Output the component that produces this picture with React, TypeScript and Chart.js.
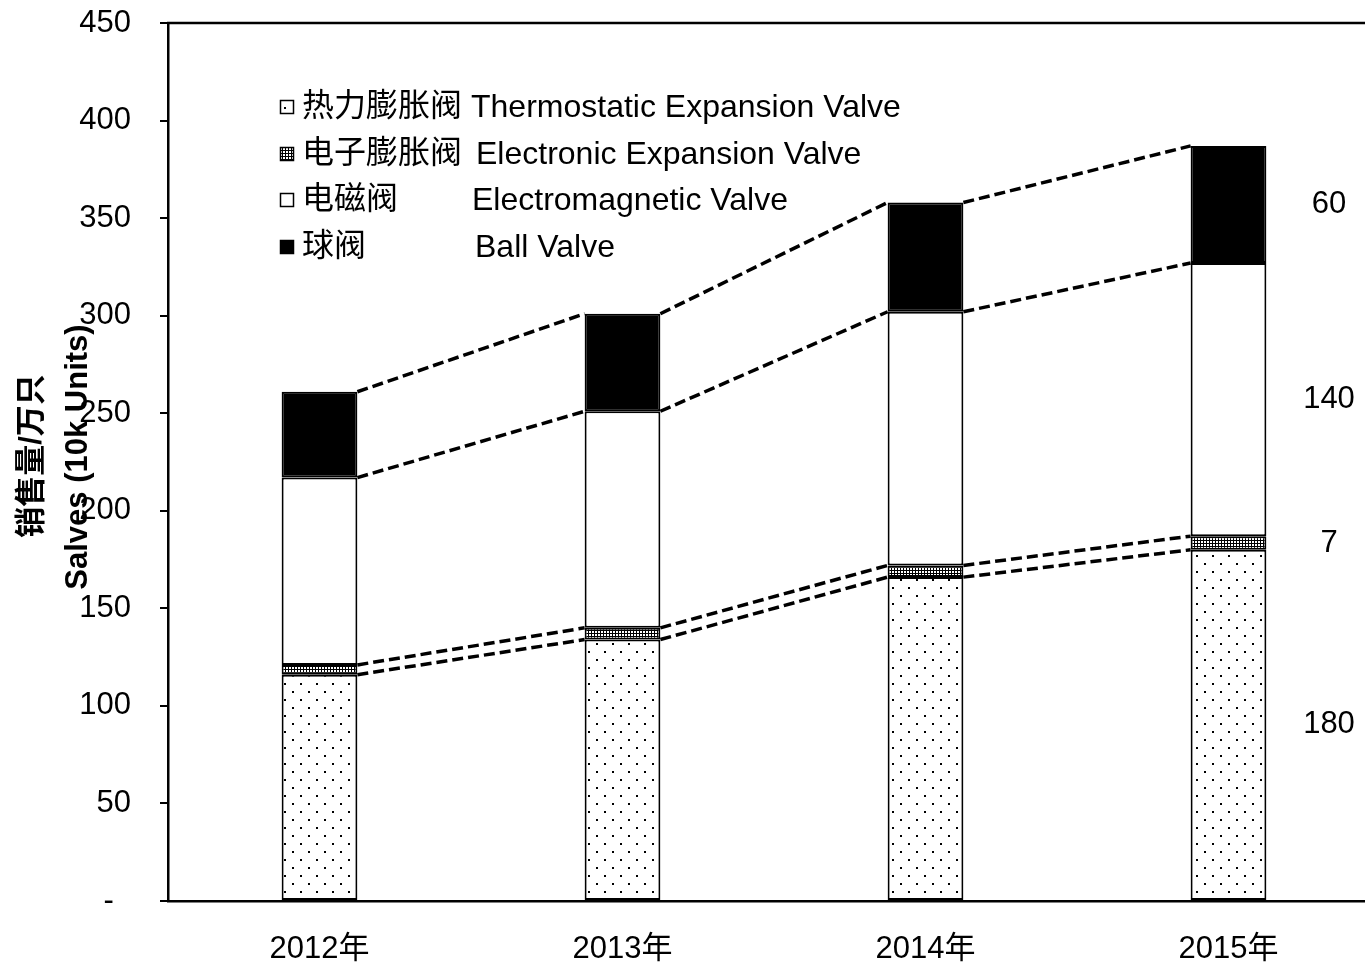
import React, { useEffect, useRef } from 'react';
import { Chart, registerables } from 'chart.js';
Chart.register(...registerables);

const years = ['2012年', '2013年', '2014年', '2015年'];
const thermostatic = [116, 134, 166, 180];
const electronic = [5, 6, 6, 7];
const electromagnetic = [96, 111, 130, 140];
const ballValve = [44, 50, 56, 60];
const seriesCn = ['热力膨胀阀', '电子膨胀阀', '电磁阀', '球阀'];
const seriesEn = ['Thermostatic Expansion Valve', 'Electronic Expansion Valve', 'Electromagnetic Valve', 'Ball Valve'];
const yMin = 0;
const yMax = 450;
const yStep = 50;
const zeroLabel = '-  ';
const yTitleCn = '销售量/万只';
const yTitleEn = 'Salves (10k Units)';

const FONT = "'Liberation Sans', Arial, 'Noto Sans CJK SC', sans-serif";

function makeDotPattern(ctx: CanvasRenderingContext2D) {
  const c = document.createElement('canvas');
  c.width = 16; c.height = 16;
  const p = c.getContext('2d')!;
  p.fillStyle = '#fff'; p.fillRect(0, 0, 16, 16);
  p.fillStyle = '#000';
  p.fillRect(4, 3, 2, 2);
  p.fillRect(12, 11, 2, 2);
  return ctx.createPattern(c, 'repeat')!;
}

function makeDensePattern(ctx: CanvasRenderingContext2D) {
  const c = document.createElement('canvas');
  c.width = 3; c.height = 3;
  const p = c.getContext('2d')!;
  p.fillStyle = '#000'; p.fillRect(0, 0, 3, 3);
  p.fillStyle = '#fff'; p.fillRect(1, 1, 2, 2);
  return ctx.createPattern(c, 'repeat')!;
}

export default function App() {
  const ref = useRef<HTMLCanvasElement>(null);
  useEffect(() => {
    const canvas = ref.current!;
    const ctx0 = canvas.getContext('2d')!;
    const dotPat = makeDotPattern(ctx0);
    const densePat = makeDensePattern(ctx0);
    const fills: any[] = [dotPat, densePat, '#ffffff', '#000000'];

    const overlay = {
      id: 'overlay',
      afterDatasetsDraw(chart: any) {
        const ctx = chart.ctx as CanvasRenderingContext2D;
        const { left, right, top } = chart.chartArea;
        ctx.save();
        ctx.strokeStyle = '#000';
        ctx.lineWidth = 2.5;
        ctx.beginPath();
        ctx.moveTo(left - 1, top);
        ctx.lineTo(right, top);
        ctx.stroke();

        // dashed connectors
        ctx.setLineDash([11, 5]);
        ctx.lineWidth = 3.5;
        chart.data.datasets.forEach((_ds: any, d: number) => {
          const meta = chart.getDatasetMeta(d);
          for (let i = 0; i < meta.data.length - 1; i++) {
            const a = meta.data[i];
            const b = meta.data[i + 1];
            ctx.beginPath();
            ctx.moveTo(a.x + a.width / 2, a.y);
            ctx.lineTo(b.x - b.width / 2, b.y);
            ctx.stroke();
          }
        });
        ctx.setLineDash([]);

        // value labels right of last bar
        ctx.fillStyle = '#000';
        ctx.font = `31px ${FONT}`;
        ctx.textAlign = 'center';
        ctx.textBaseline = 'middle';
        chart.data.datasets.forEach((ds: any, d: number) => {
          const meta = chart.getDatasetMeta(d);
          const last = meta.data.length - 1;
          const el = meta.data[last];
          ctx.fillText(String(ds.data[last]), 1329, (el.y + el.base) / 2);
        });

        // legend
        const lineY = [107, 154, 200, 247];
        const enX = [471, 476, 472, 475];
        for (let k = 0; k < 4; k++) {
          const cy = lineY[k];
          const bx = 280, by = cy - 7, bs = 14;
          ctx.fillStyle = fills[k];
          ctx.fillRect(bx, by, bs, bs);
          ctx.strokeStyle = '#000';
          ctx.lineWidth = 1.5;
          ctx.strokeRect(bx + 0.5, by + 0.5, bs - 1, bs - 1);
          ctx.fillStyle = '#000';
          ctx.textAlign = 'left';
          ctx.textBaseline = 'middle';
          ctx.font = `32px ${FONT}`;
          ctx.fillText(seriesCn[k], 302, cy);
          ctx.fillText(seriesEn[k], enX[k], cy + 1);
        }

        // y axis titles
        ctx.font = `bold 31px ${FONT}`;
        ctx.textAlign = 'center';
        ctx.textBaseline = 'middle';
        ctx.translate(32, 456);
        ctx.rotate(-Math.PI / 2);
        ctx.fillText(yTitleCn, 0, 0);
        ctx.rotate(Math.PI / 2);
        ctx.translate(-32, -456);
        ctx.translate(78, 457);
        ctx.rotate(-Math.PI / 2);
        ctx.fillText(yTitleEn, 0, 0);
        ctx.restore();
      },
    };

    const mk = (label: string, data: number[], k: number) => ({
      label,
      data,
      backgroundColor: fills[k],
      borderColor: '#000',
      borderWidth: 2,
      borderSkipped: false,
      barPercentage: 0.25,
      categoryPercentage: 1,
    });

    const chart = new Chart(canvas, {
      type: 'bar',
      data: {
        labels: years,
        datasets: [
          mk(seriesEn[0], thermostatic, 0),
          mk(seriesEn[1], electronic, 1),
          mk(seriesEn[2], electromagnetic, 2),
          mk(seriesEn[3], ballValve, 3),
        ],
      },
      options: {
        responsive: false,
        animation: false,
        layout: { padding: { left: 0, top: 23, right: 20, bottom: 0 } },
        plugins: { legend: { display: false }, tooltip: { enabled: false } },
        scales: {
          x: {
            stacked: true,
            grid: { display: false, drawTicks: false },
            border: { display: true, color: '#000', width: 2.5 },
            ticks: { color: '#000', font: { size: 31, family: FONT }, padding: 30, maxRotation: 0 },
            afterFit: (s: any) => { s.height = 66; s.paddingLeft = 0; s.paddingRight = 0; },
          },
          y: {
            stacked: true,
            min: yMin,
            max: yMax,
            grid: { display: true, drawOnChartArea: false, drawTicks: true, tickLength: 8, color: '#000', lineWidth: 2 },
            border: { display: true, color: '#000', width: 2.5 },
            ticks: {
              stepSize: yStep,
              color: '#000',
              font: { size: 31, family: FONT },
              padding: 29,
              callback: (v: any) => (v === 0 ? zeroLabel : String(v)),
            },
            afterFit: (s: any) => { s.width = 168; s.paddingTop = 0; s.paddingBottom = 0; },
          },
        },
      },
      plugins: [overlay],
    });
    return () => chart.destroy();
  }, []);

  return (
    <div style={{ position: 'absolute', left: 0, top: 0, width: 1365, height: 967, overflow: 'hidden', background: '#fff' }}>
      <canvas ref={ref} width={1400} height={967} style={{ display: 'block' }} />
    </div>
  );
}
